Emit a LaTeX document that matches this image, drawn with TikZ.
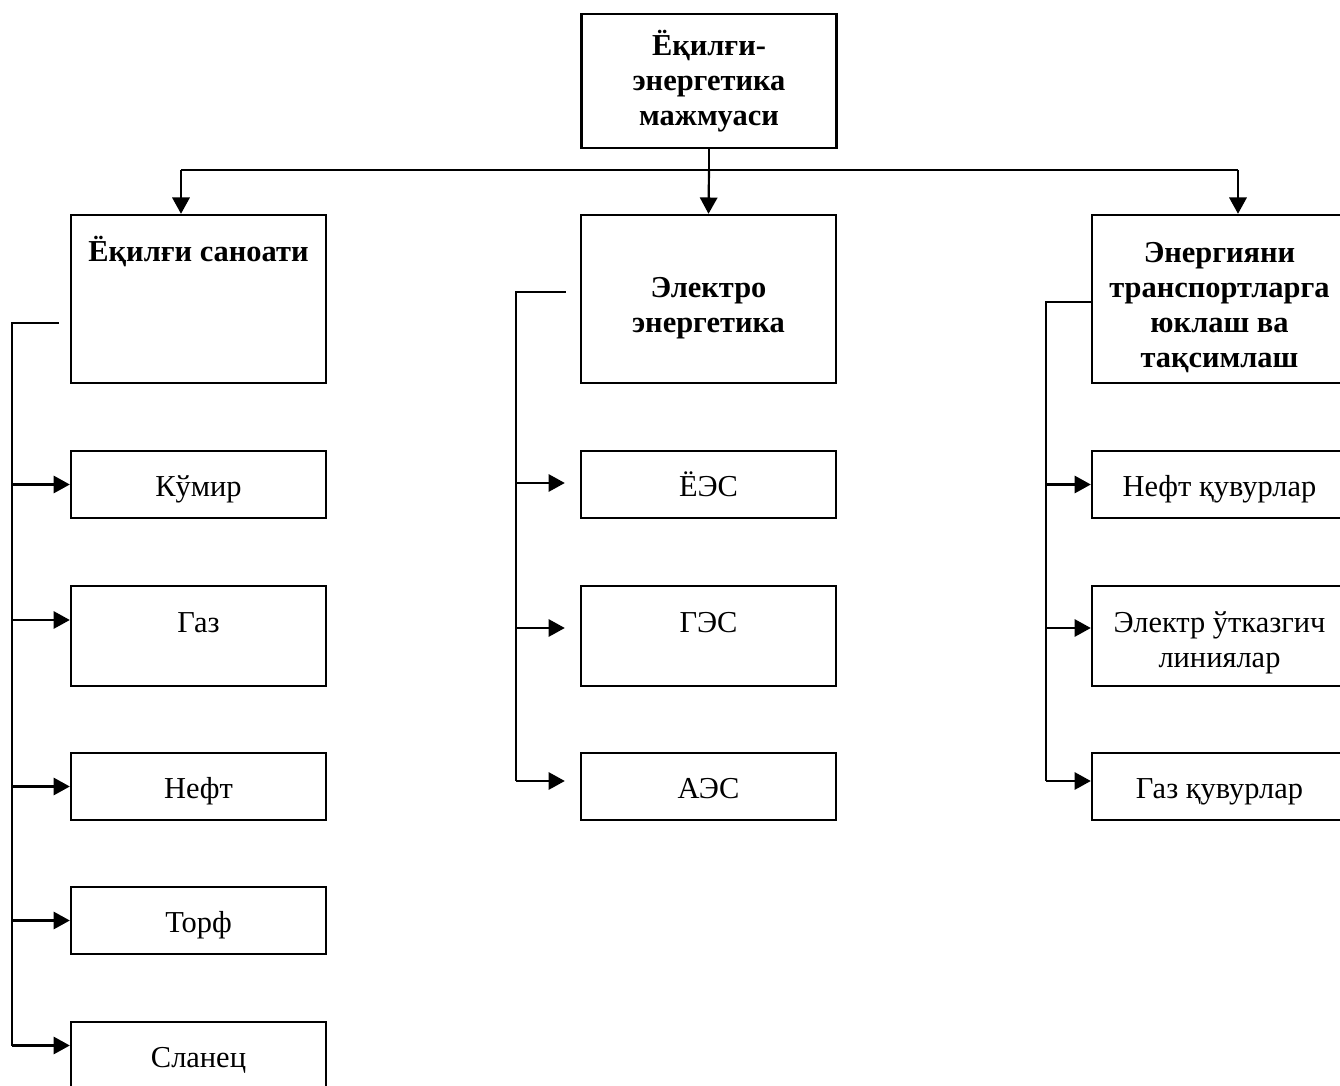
\documentclass[tikz,border=0pt]{standalone}
\usepackage{fontspec}
\setmainfont{Liberation Serif}
\usetikzlibrary{arrows.meta,calc}
\newcommand\lift[1]{\rule{0pt}{#1}}
\tikzset{>={Triangle[length=7.5pt,width=8pt]}}
\tikzset{
  box/.style = {draw, line width=1.1pt, minimum width=117.3pt, minimum height=30.8pt,
    align=center, inner sep=0pt, font=\fontsize{14}{16.1}\selectfont,
    drop=15.5pt, execute at end node=\strut},
  drop/.style = {execute at begin node={\lift{#1}}},
  head/.style = {box, font=\fontsize{14}{16.1}\selectfont\bfseries},
  tall/.style = {minimum height=46pt},
  link/.style = {line width=1pt}
}

\begin{document}
\begin{tikzpicture}[x=0.46pt,y=-0.46pt]
  \clip (0,0) rectangle (1340,1086);
  % main box
  \node[head, minimum height=61.6pt] (complex) at (709,81) {\lift{14pt}Ёқилғи-\\энергетика\\мажмуаси};
  % branches
  \node[head, minimum height=77.3pt] (fuel) at (198.5,299) {};
  \node[head, draw=none, anchor=base] (fueltxt) at ($(fuel.north)+(0,48)$) {Ёқилғи саноати};
  \node[head, minimum height=77.3pt] (power) at (708.5,299) {\lift{19.6pt}Электро\\энергетика};
  \node[head, minimum height=77.3pt] (transport) at (1219.5,299) {\lift{19.6pt}Энергияни\\транспортларга\\юклаш ва\\тақсимлаш};
  % fuel industry
  \node[box] (coal) at (198.5,484.5) {Кўмир};
  \node[box, tall] (gas) at (198.5,636) {\lift{17.7pt}Газ\\\mbox{}};
  \node[box] (oil) at (198.5,786.5) {Нефт};
  \node[box] (peat) at (198.5,920.5) {Торф};
  \node[box] (shale) at (198.5,1055.5) {Сланец};
  % power plants
  \node[box] (tpp) at (708.5,484.5) {ЁЭС};
  \node[box, tall] (hpp) at (708.5,636) {\lift{17.7pt}ГЭС\\\mbox{}};
  \node[box] (npp) at (708.5,786.5) {АЭС};
  % transport
  \node[box] (oilpipe) at (1219.5,484.5) {Нефт қувурлар};
  \node[box, tall] (lines) at (1219.5,636) {\lift{17.7pt}Электр ўтказгич\\линиялар};
  \node[box] (gaspipe) at (1219.5,786.5) {Газ қувурлар};

  % top bus
  \coordinate (bus) at (709,170);
  \coordinate (fuelin) at ($(fuel.north)+(-17.5,0)$);
  \coordinate (transin) at ($(transport.north)+(18.5,0)$);
  \draw[link] (complex.south) -- (bus);
  \draw[link] (fuelin |- bus) -- (transin |- bus);
  \draw[link,->] (fuelin |- bus) -- (fuelin);
  \draw[link,->] (bus) -- (power.north);
  \draw[link,->] (transin |- bus) -- (transin);

  % fuel rail
  \coordinate (fuelrail) at (12,323);
  \coordinate (gasin) at ($(gas.west)+(0,-16)$);
  \coordinate (shalein) at ($(shale.west)+(0,-10)$);
  \draw[link] ($(fuel.west)+(-11,24)$) -- (fuelrail) -- (fuelrail |- shalein);
  \foreach \t in {coal.west,gasin,oil.west,peat.west,shalein}
    \draw[link,->] (fuelrail |- \t) -- (\t);

  % power rail
  \coordinate (powerrail) at (516,292);
  \coordinate (tppin) at ($(tpp.west)+(-15,-1.5)$);
  \coordinate (hppin) at ($(hpp.west)+(-15,-8)$);
  \coordinate (nppin) at ($(npp.west)+(-15,-5.5)$);
  \draw[link] ($(power.west)+(-14,-7)$) -- (powerrail) -- (powerrail |- nppin);
  \foreach \t in {tppin,hppin,nppin}
    \draw[link,->] (powerrail |- \t) -- (\t);

  % transport rail
  \coordinate (transrail) at (1046,302);
  \coordinate (linesin) at ($(lines.west)+(0,-8)$);
  \coordinate (gaspipein) at ($(gaspipe.west)+(0,-5.5)$);
  \draw[link] ($(transport.west)+(2,3)$) -- (transrail) -- (transrail |- gaspipein);
  \foreach \t in {oilpipe.west,linesin,gaspipein}
    \draw[link,->] (transrail |- \t) -- (\t);
\end{tikzpicture}
\end{document}
